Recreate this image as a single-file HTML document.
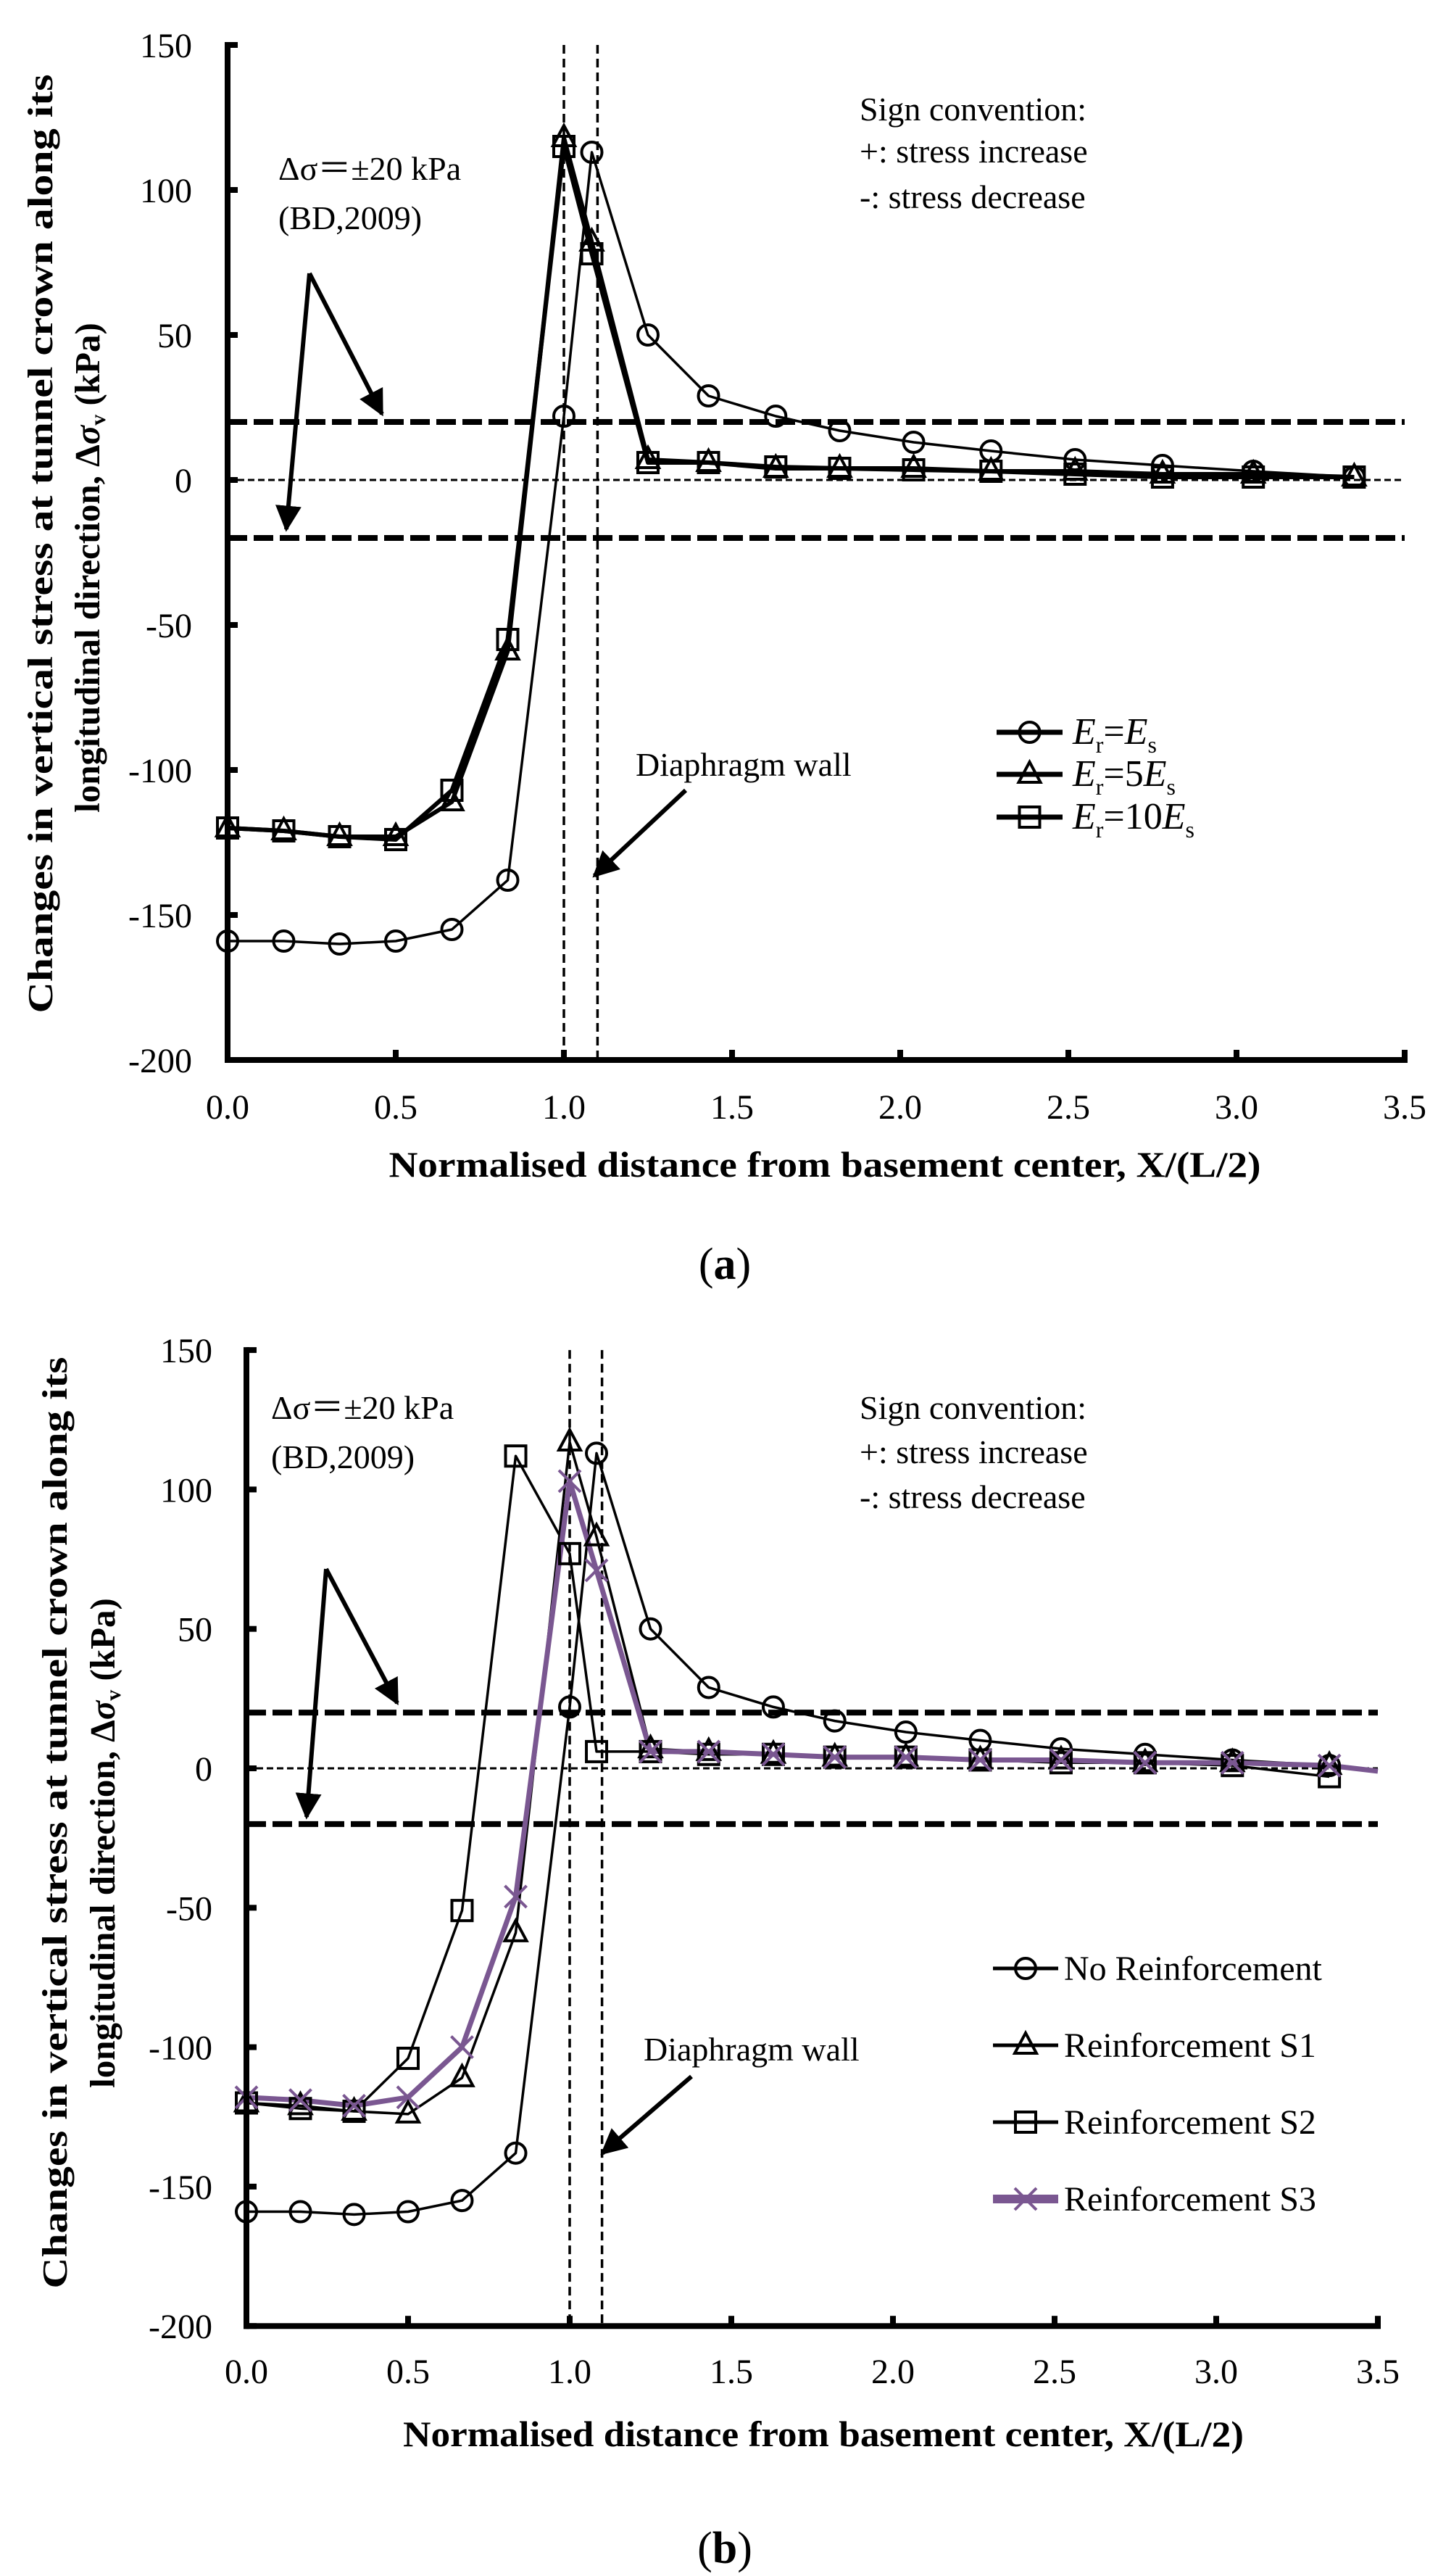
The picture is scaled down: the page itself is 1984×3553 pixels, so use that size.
<!DOCTYPE html>
<html><head><meta charset="utf-8">
<style>
html,body{margin:0;padding:0;background:#fff;}
svg{display:block;}
text{font-family:"Liberation Serif",serif;fill:#000;}
</style></head>
<body>
<svg id="s" xmlns="http://www.w3.org/2000/svg" width="1984" height="3553" viewBox="0 0 1984 3553">
<defs>
<marker id="ah" viewBox="0 0 10 10" refX="9" refY="5" markerWidth="6" markerHeight="6" markerUnits="strokeWidth" orient="auto"><path d="M0,0 L10,5 L0,10 z" fill="#000"/></marker>
</defs>
</svg>
<script>
const S=document.getElementById('s');const NS='http://www.w3.org/2000/svg';
function el(t,a,txt){const e=document.createElementNS(NS,t);for(const k in a)e.setAttribute(k,a[k]);if(txt!==undefined)e.textContent=txt;S.appendChild(e);return e;}
const XS=[0,0.167,0.333,0.5,0.667,0.833,1.0,1.083,1.25,1.43,1.63,1.82,2.04,2.27,2.52,2.78,3.05,3.35];
const circ=[-159,-159,-160,-159,-155,-138,22,113,50,29,22,17,13,10,7,5,3,1];
function marker(type,x,y,col){
 if(type==='o')el('circle',{cx:x,cy:y,r:14,fill:'#fff','fill-opacity':0,stroke:col,'stroke-width':4});
 if(type==='t')el('path',{d:`M${x},${y-17} L${x+15},${y+11} L${x-15},${y+11} Z`,fill:'none',stroke:col,'stroke-width':4});
 if(type==='s')el('rect',{x:x-14,y:y-14,width:28,height:28,fill:'none',stroke:col,'stroke-width':4});
 if(type==='x'){el('path',{d:`M${x-15},${y-15} L${x+15},${y+15} M${x+15},${y-15} L${x-15},${y+15}`,stroke:col,'stroke-width':4});}
}
function chart(c){
 const X=v=>c.x0+v*c.ux, Y=v=>c.y0-v*c.uy;
 el('line',{x1:X(1),y1:Y(150),x2:X(1),y2:Y(-200),stroke:'#000','stroke-width':3.5,'stroke-dasharray':'12 7'});
 el('line',{x1:X(1.1),y1:Y(150),x2:X(1.1),y2:Y(-200),stroke:'#000','stroke-width':3.5,'stroke-dasharray':'12 7'});
 el('line',{x1:X(0),y1:Y(0),x2:X(3.5),y2:Y(0),stroke:'#000','stroke-width':3,'stroke-dasharray':'9 5'});
 [20,-20].forEach(v=>el('line',{x1:X(0),y1:Y(v),x2:X(3.5),y2:Y(v),stroke:'#000','stroke-width':8,'stroke-dasharray':'27 9'}));
 c.series.forEach(s=>{
  const pts=s.xs.map((x,i)=>X(x)+','+Y(s.ys[i])).join(' ');
  el('polyline',{points:pts,fill:'none',stroke:s.col,'stroke-width':s.w,'stroke-linejoin':'round'});
 });
 c.series.forEach(s=>{s.xs.forEach((x,i)=>{if(s.nm&&i>=s.nm)return;marker(s.m,X(x),Y(s.ys[i]),s.col);});});
 el('line',{x1:X(0),y1:Y(150)-4,x2:X(0),y2:Y(-200)+4,stroke:'#000','stroke-width':8});
 el('line',{x1:X(0)-4,y1:Y(-200),x2:X(3.5)+4,y2:Y(-200),stroke:'#000','stroke-width':8});
 for(let v=-200;v<=150;v+=50){el('line',{x1:X(0),y1:Y(v),x2:X(0)+14,y2:Y(v),stroke:'#000','stroke-width':8});
  el('text',{x:c.ylx,y:Y(v)+17,'font-size':48,'text-anchor':'end'},String(v));}
 for(let i=0;i<=7;i++){const v=i*0.5;el('line',{x1:X(v),y1:Y(-200),x2:X(v),y2:Y(-200)-14,stroke:'#000','stroke-width':8});
  el('text',{x:X(v),y:c.xly,'font-size':48,'text-anchor':'middle'},v.toFixed(1));}
 el('text',{x:c.xtx,y:c.xty,'font-size':50,'font-weight':'bold','text-anchor':'middle',textLength:c.xtw,lengthAdjust:'spacingAndGlyphs'},'Normalised distance from basement center, X/(L/2)');
 el('text',{x:0,y:0,'font-size':49,'font-weight':'bold','text-anchor':'middle',textLength:c.l1w,lengthAdjust:'spacingAndGlyphs',transform:`translate(${c.l1x},${c.l1y}) rotate(-90)`},'Changes in vertical stress at tunnel crown along  its');
 let t=el('text',{x:0,y:0,'font-size':49,'font-weight':'bold','text-anchor':'middle',transform:`translate(${c.l2x},${c.l2y}) rotate(-90)`});
 t.innerHTML='longitudinal direction,  Δ<tspan font-style="italic">σ</tspan><tspan font-size="30" dy="8">v</tspan><tspan dy="-8"> (kPa)</tspan>';
 el('text',{x:c.dx,y:c.dy,'font-size':46},'Δσ＝±20 kPa');
 el('text',{x:c.dx,y:c.dy+68,'font-size':46},'(BD,2009)');
 c.sc.forEach((s,i)=>el('text',{x:1186,y:c.scy[i],'font-size':46},s));
 el('text',{x:c.dwx,y:c.dwy,'font-size':46},'Diaphragm wall');
 const A=c.arr;
 el('line',{x1:A[0][0],y1:A[0][1],x2:A[1][0],y2:A[1][1],stroke:'#000','stroke-width':6,'marker-end':'url(#ah)'});
 el('line',{x1:A[0][0],y1:A[0][1],x2:A[2][0],y2:A[2][1],stroke:'#000','stroke-width':6,'marker-end':'url(#ah)'});
 el('line',{x1:A[3][0],y1:A[3][1],x2:A[4][0],y2:A[4][1],stroke:'#000','stroke-width':6,'marker-end':'url(#ah)'});
 c.leg.forEach((g,i)=>{const y=c.legy[i];
  el('line',{x1:c.lx1,y1:y,x2:c.lx2,y2:y,stroke:g.col,'stroke-width':g.w});
  marker(g.m,(c.lx1+c.lx2)/2,y,g.col);
  const tt=el('text',{x:c.ltx,y:y+16,'font-size':g.fs||48});tt.innerHTML=g.t;});
 el('text',{x:c.capx,y:c.capy,'font-size':62,'text-anchor':'middle'}).innerHTML='(<tspan font-weight="bold">'+c.cap+'</tspan>)';
}
const sub=s=>`<tspan font-size="32" dy="12">${s}</tspan><tspan dy="-12">`;
chart({x0:314,ux:464,y0:662,uy:4,ylx:265,xly:1543,xtx:1138,xty:1623,xtw:1203,
 l1x:72,l1y:750,l1w:1295,l2x:137,l2y:783,
 dx:384,dy:248,sc:['Sign convention:','+: stress increase','-: stress decrease'],scy:[166,224,287],dwx:877,dwy:1070,
 arr:[[427,377],[527,571],[395,730],[946,1090],[820,1208]],
 series:[
  {xs:XS,ys:circ,m:'o',col:'#000',w:3.5},
  {xs:XS,ys:[-120,-121,-123,-123,-111,-59,118,82,7,6,4,4,4,3,3,2,2,1],m:'t',col:'#000',w:6},
  {xs:XS,ys:[-120,-121,-123,-124,-107,-55,115,78,6,6,4.5,4,3.5,3,2,1,1,1],m:'s',col:'#000',w:6}],
 lx1:1375,lx2:1466,ltx:1480,legy:[1010,1068,1127],
 leg:[{m:'o',col:'#000',w:7,t:'<tspan font-style="italic">E</tspan>'+sub('r')+'=<tspan font-style="italic">E</tspan>'+sub('s')+'</tspan></tspan>',fs:52},
      {m:'t',col:'#000',w:7,t:'<tspan font-style="italic">E</tspan>'+sub('r')+'=5<tspan font-style="italic">E</tspan>'+sub('s')+'</tspan></tspan>',fs:52},
      {m:'s',col:'#000',w:7,t:'<tspan font-style="italic">E</tspan>'+sub('r')+'=10<tspan font-style="italic">E</tspan>'+sub('s')+'</tspan></tspan>',fs:52}],
 capx:1000,capy:1764,cap:'a'});
chart({x0:340,ux:446,y0:2439,uy:3.846,ylx:293,xly:3287,xtx:1136,xty:3374,xtw:1160,
 l1x:92,l1y:2514,l1w:1285,l2x:158,l2y:2542,
 dx:374,dy:1957,sc:['Sign convention:','+: stress increase','-: stress decrease'],scy:[1957,2018,2080],dwx:888,dwy:2842,
 arr:[[450,2164],[548,2349],[423,2506],[954,2864],[831,2970]],
 series:[
  {xs:XS,ys:circ,m:'o',col:'#000',w:3.5},
  {xs:XS,ys:[-120,-121,-123,-124,-111,-59,117,83,7,6,5,4,4,3,3,2,2,1],m:'t',col:'#000',w:3.5},
  {xs:XS,ys:[-120,-122,-123,-104,-51,112,77,6,6,5,5,4,4,3,2,2,1,-3],m:'s',col:'#000',w:3.5},
  {xs:XS.concat([3.5]),ys:[-118,-119,-121,-118,-100,-46,103,71,6,6,5,4,4,3,3,2,2,1,-1],m:'x',col:'#7a5791',w:7,nm:18}],
 lx1:1370,lx2:1460,ltx:1468,legy:[2715,2821,2927,3033],
 leg:[{m:'o',col:'#000',w:5,t:'No Reinforcement'},{m:'t',col:'#000',w:5,t:'Reinforcement S1'},
      {m:'s',col:'#000',w:5,t:'Reinforcement S2'},{m:'x',col:'#7a5791',w:12,t:'Reinforcement S3'}],
 capx:1000,capy:3535,cap:'b'});
</script>
</body></html>
